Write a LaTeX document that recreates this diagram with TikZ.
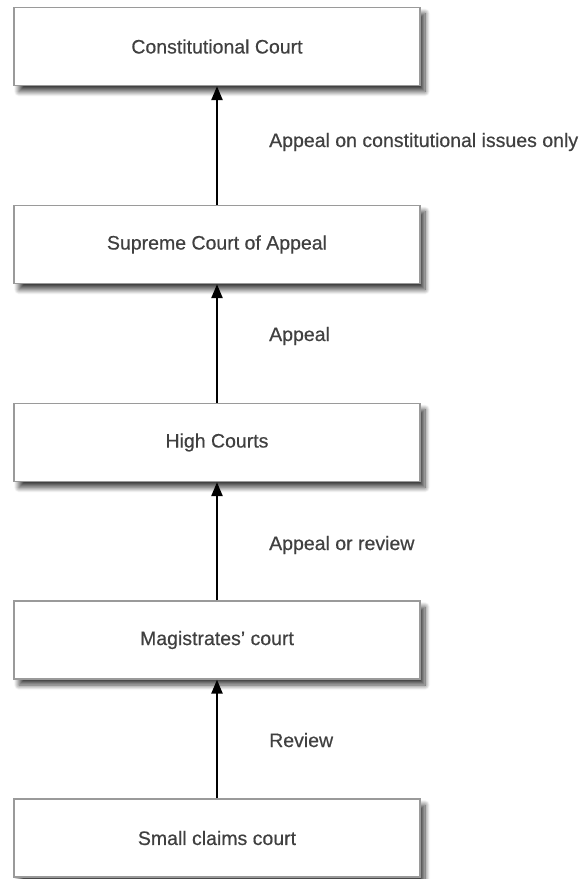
\documentclass[tikz,border=0pt]{standalone}
\usepackage{fontspec}
\setmainfont[FakeBold=0.5]{Liberation Sans}
\usetikzlibrary{shadows.blur,arrows.meta}
\definecolor{txt}{HTML}{404040}
\definecolor{edge}{HTML}{9A9A9A}
\tikzset{
  court/.style={draw=edge, line width=1.3pt, fill=white, minimum width=406pt, minimum height=78pt,
    inner sep=0pt, text=txt, font=\fontsize{19.5}{22}\selectfont,
    blur shadow={shadow xshift=5pt, shadow yshift=-6pt, shadow blur steps=10, shadow blur radius=5pt, shadow opacity=75}},
  lbl/.style={anchor=base west, text=txt, font=\fontsize{19.5}{22}\selectfont, inner sep=0pt},
  up/.style={line width=2.4pt, -{Triangle[length=14pt,width=11pt]}, black}
}
\begin{document}
\begin{tikzpicture}[x=1pt,y=1pt]
\useasboundingbox (0,0) rectangle (584,-879);
\node[court] (cc) at (217,-46.5) {Constitutional Court};
\node[court] (sca) at (217,-244.5) {Supreme Court of Appeal};
\node[court] (hc) at (217,-442.5) {High Courts};
\node[court] (mc) at (217,-640) {Magistrates’ court};
\node[court] (scc) at (217,-838) {Small claims court};
\draw[up] (sca.north) -- (cc.south);
\draw[up] (hc.north) -- (sca.south);
\draw[up] (mc.north) -- (hc.south);
\draw[up] (scc.north) -- (mc.south);
\node[lbl] (l1) at (269,-147) {Appeal on constitutional issues only};
\node[lbl] (l2) at (269,-341) {Appeal};
\node[lbl] (l3) at (269,-550) {Appeal or review};
\node[lbl] (l4) at (269,-747) {Review};
\end{tikzpicture}
\end{document}
